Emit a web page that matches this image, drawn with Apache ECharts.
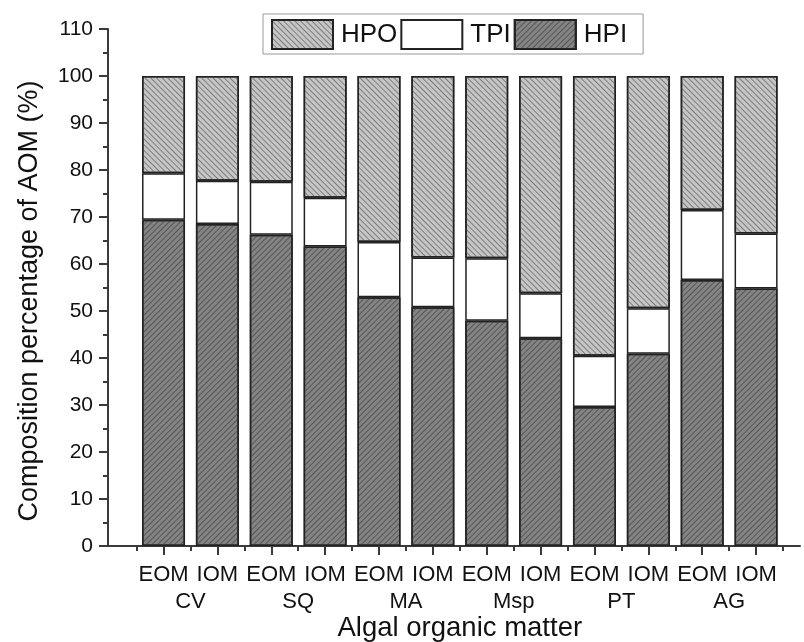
<!DOCTYPE html>
<html>
<head>
<meta charset="utf-8">
<script src="https://cdn.jsdelivr.net/npm/echarts@6/dist/echarts.min.js"></script>
<style>html,body{margin:0;padding:0;background:#fff}#c{width:804px;height:642px}</style>
</head>
<body>
<div id="c"></div>
<script>
const categories = ['EOM','IOM','EOM','IOM','EOM','IOM','EOM','IOM','EOM','IOM','EOM','IOM'];
const groups = ['CV','SQ','MA','Msp','PT','AG'];
const HPI = [69.4, 68.5, 66.2, 63.7, 52.9, 50.8, 47.9, 44.2, 29.6, 40.9, 56.6, 54.8];
const TPI = [9.9, 9.2, 11.3, 10.4, 11.8, 10.6, 13.3, 9.6, 10.9, 9.7, 14.9, 11.7];
const HPO = [20.7, 22.3, 22.5, 25.9, 35.3, 38.6, 38.8, 46.2, 59.5, 49.4, 28.5, 33.5];
const yTicks = {min: 0, max: 110, interval: 10};
const yTitle = 'Composition percentage of AOM (%)';
const xTitle = 'Algal organic matter';

const FONT = '"Liberation Sans", Arial, sans-serif';
const chart = echarts.init(document.getElementById('c'), null, {renderer: 'canvas'});
const axisCol = '#3a3a3a';
const border = {borderColor: '#222', borderWidth: 1.5};

chart.setOption({
  animation: false,
  textStyle: {fontFamily: FONT, color: '#111'},
  legend: {
    data: ['HPO', 'TPI', 'HPI'],
    left: 263, top: 14,
    padding: [5, 16, 4, 8],
    itemWidth: 61, itemHeight: 29, itemGap: 3,
    icon: 'rect',
    borderColor: '#999', borderWidth: 1,
    textStyle: {fontSize: 26, fontFamily: FONT, color: '#111', padding: [0, 0, 0, 3]}
  },
  graphic: [{
    type: 'text', x: 30, y: 301, rotation: Math.PI / 2,
    style: {text: yTitle, fontSize: 27, fontFamily: FONT, fill: '#111', align: 'center', verticalAlign: 'middle'}
  }],
  grid: [
    {left: 108, right: 4, top: 29, bottom: 96, outerBoundsMode: 'none', containLabel: false},
    {left: 136.6, right: 21, top: 29, bottom: 96, outerBoundsMode: 'none', containLabel: false}
  ],
  xAxis: [
    {gridIndex: 0, type: 'value', min: 0, max: 1,
     axisLine: {show: true, lineStyle: {color: axisCol, width: 2}},
     axisTick: {show: false}, axisLabel: {show: false}, splitLine: {show: false}},
    {gridIndex: 1, type: 'category', data: categories, position: 'bottom',
     axisLine: {show: false},
     axisTick: {show: true, alignWithLabel: true, length: 9, lineStyle: {color: axisCol, width: 2}},
     axisLabel: {fontSize: 22, color: '#111', margin: 18, interval: 0}},
    {gridIndex: 1, type: 'category', data: categories, position: 'bottom',
     axisLine: {show: false},
     axisTick: {show: true, length: 5, interval: 0, lineStyle: {color: axisCol, width: 2}},
     axisLabel: {show: false}},
    {gridIndex: 1, type: 'category', data: groups, position: 'bottom',
     axisLine: {show: false}, axisTick: {show: false},
     axisLabel: {fontSize: 22, color: '#111', margin: 45, interval: 0},
     name: xTitle, nameLocation: 'middle', nameGap: 68, nameMoveOverlap: false,
     nameTextStyle: {fontSize: 27.5, color: '#111', verticalAlign: 'top'}}
  ],
  yAxis: [
    {gridIndex: 0, type: 'value', min: yTicks.min, max: yTicks.max, interval: yTicks.interval,
     axisLine: {show: true, lineStyle: {color: axisCol, width: 2}},
     axisTick: {show: true, length: 9, lineStyle: {color: axisCol, width: 2}},
     minorTick: {show: true, splitNumber: 2, length: 5, lineStyle: {color: axisCol, width: 2}},
     axisLabel: {fontSize: 21, color: '#111', margin: 15},
     splitLine: {show: false}},
    {gridIndex: 1, type: 'value', min: yTicks.min, max: yTicks.max, show: false, splitLine: {show: false}}
  ],
  series: [
    {name: 'HPI', type: 'bar', stack: 'a', xAxisIndex: 1, yAxisIndex: 1, barWidth: 43, data: HPI,
     itemStyle: Object.assign({color: '#848484', decal: {symbol: 'rect', symbolSize: 1, dashArrayX: [1, 0], dashArrayY: [1, 3], rotation: -Math.PI / 4, color: '#555555'}}, border)},
    {name: 'TPI', type: 'bar', stack: 'a', xAxisIndex: 1, yAxisIndex: 1, barWidth: 43, data: TPI,
     itemStyle: Object.assign({color: '#ffffff'}, border)},
    {name: 'HPO', type: 'bar', stack: 'a', xAxisIndex: 1, yAxisIndex: 1, barWidth: 43, data: HPO,
     itemStyle: Object.assign({color: '#c6c6c6', decal: {symbol: 'rect', symbolSize: 1, dashArrayX: [1, 0], dashArrayY: [1, 3], rotation: Math.PI / 4, color: '#7c7c7c'}}, border)}
  ]
});
</script>
</body>
</html>
